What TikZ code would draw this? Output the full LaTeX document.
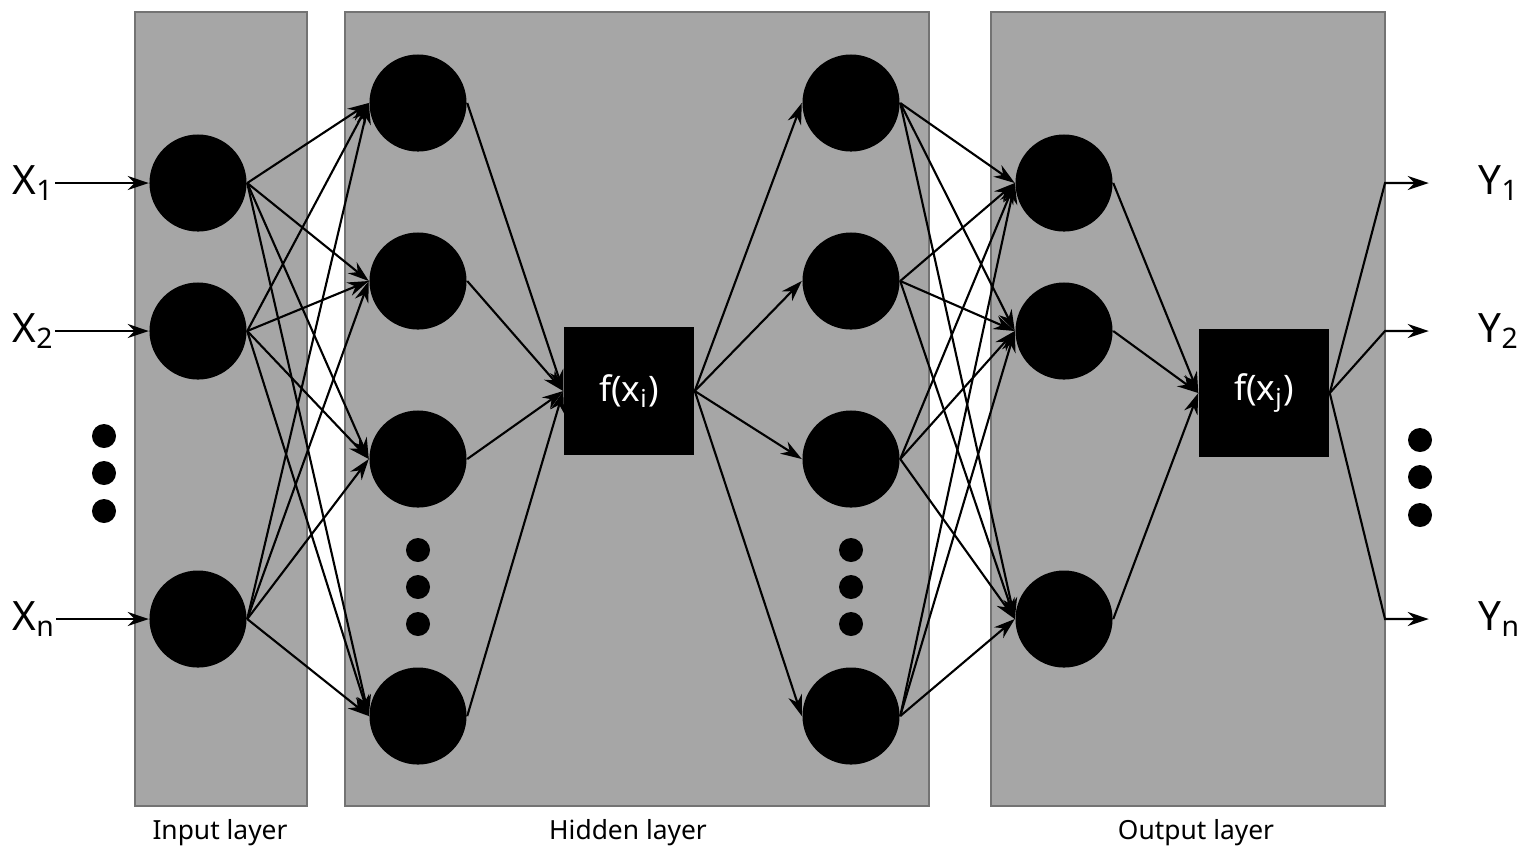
\documentclass[tikz,border=0pt]{standalone}
\usepackage{fontspec}
\setmainfont{Noto Sans}
\usetikzlibrary{arrows.meta}
\tikzset{
  panel/.style={fill=black!35,draw=black!55,line width=0.6pt},
  neuron/.style={circle,fill=black,minimum size=0.97cm,inner sep=0pt},
  act/.style={fill=black,text=white,minimum width=1.3cm,minimum height=1.28cm,font=\fontsize{10}{10}\selectfont},
  dot/.style={circle,fill=black,minimum size=0.24cm,inner sep=0pt},
  conn/.style={-{Stealth[length=6pt,width=4pt]},line width=0.6pt},
  lab/.style={font=\fontsize{11.5}{11.5}\selectfont,inner sep=0pt},
  caption/.style={font=\fontsize{7.5}{7.5}\selectfont}
}
\begin{document}
\begin{tikzpicture}[x=0.01cm,y=-0.01cm]
    \useasboundingbox (0,0) rectangle (1525,856);
    \draw[panel] (135,12) rectangle (307,806);
    \draw[panel] (345,12) rectangle (929,806);
    \draw[panel] (991,12) rectangle (1385,806);
    \node[caption] at (220,833) {Input layer};
    \node[caption] at (628,833) {Hidden layer};
    \node[caption] at (1196,833) {Output layer};
    % neurons
    \foreach \n/\y in {1/183,2/331,3/619}{
    \node[neuron] (in\n) at (198,\y) {};
    \node[neuron] (out\n) at (1064,\y) {};}
    \foreach \n/\y in {1/103,2/281,3/459,4/716}{
    \node[neuron] (ha\n) at (418,\y) {};
    \node[neuron] (hb\n) at (851,\y) {};}
    \foreach \y in {436,473,511}{\node[dot] at (104,\y) {};}
    \foreach \y in {440,477,515}{\node[dot] at (1420,\y) {};}
    \foreach \y in {550,587,624}{
    \node[dot] at (418,\y) {};
    \node[dot] at (851,\y) {};}
    \node[act] (fi) at (629,391) {f(x\textsubscript{i})};
    \node[act] (fj) at (1264,393) {f(x\textsubscript{j})};
    % inputs and outputs
    \foreach \n/\t/\y in {1/1/183,2/2/331,3/n/619}{
    \node[lab,anchor=west] (x\n) at (12,\y) {X\textsubscript{\t}};
    \draw[conn] (x\n) -- (in\n.west);
    \coordinate (k\n) at (1385,\y);
    \node[lab,anchor=west] (y\n) at (1478,\y) {Y\textsubscript{\t}};
    \draw[conn] (fj.east) -- (k\n) -- ([xshift=-14pt]y\n.west);}
    % connections
    \foreach \i in {1,2,3}{
    \foreach \j in {1,2,3,4}{
    \draw[conn] (in\i.east) -- (ha\j.west);
    \draw[conn] (hb\j.east) -- (out\i.west);}
    \draw[conn] (out\i.east) -- (fj.west);}
    \foreach \j in {1,2,3,4}{
    \draw[conn] (ha\j.east) -- (fi.west);
    \draw[conn] (fi.east) -- (hb\j.west);}
\end{tikzpicture}
\end{document}
